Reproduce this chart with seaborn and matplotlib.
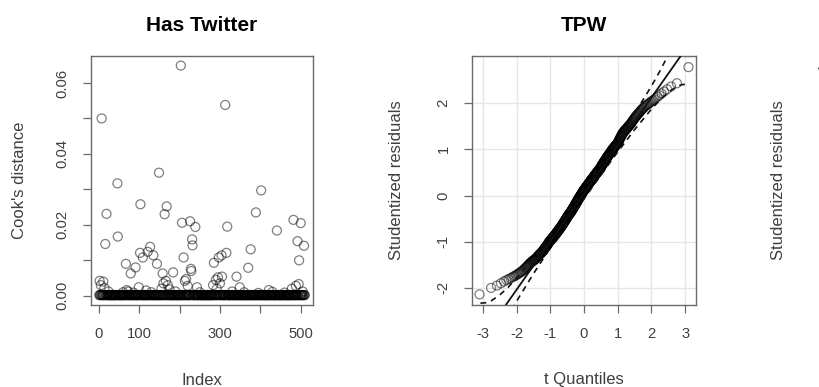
import numpy as np
import pandas as pd
import matplotlib
matplotlib.use("Agg")
import matplotlib.pyplot as plt
import seaborn as sns
from statistics import NormalDist

# ---------------- data ----------------
# Panel 1: Cook's distance vs index (Has Twitter)
n_obs = 510
cook_index = [2, 7, 11, 16, 19, 46, 47, 67, 69, 79, 91, 99, 102, 103, 109, 121, 127,
              135, 144, 149, 158, 163, 166, 168, 171, 184, 203, 206, 210, 213, 216,
              226, 228, 229, 231, 232, 239, 243, 285, 290, 295, 297, 304, 305, 313,
              316, 318, 341, 349, 370, 376, 389, 402, 421, 441, 482, 492, 495, 496,
              500, 508,
              5, 14, 24, 60, 73, 86, 117, 130, 155, 160, 175, 190, 220, 250, 283,
              292, 300, 330, 360, 395, 430, 460, 478, 488, 505]
cook_value = [0.0042, 0.0500, 0.0040, 0.0146, 0.0231, 0.0317, 0.0167, 0.0090, 0.0016,
              0.0063, 0.0080, 0.0024, 0.0121, 0.0258, 0.0108, 0.0124, 0.0138, 0.0114,
              0.0090, 0.0347, 0.0063, 0.0230, 0.0042, 0.0252, 0.0030, 0.0066, 0.0649,
              0.0206, 0.0108, 0.0042, 0.0047, 0.0210, 0.0076, 0.0070, 0.0159, 0.0142,
              0.0194, 0.0024, 0.0093, 0.0045, 0.0052, 0.0108, 0.0114, 0.0054, 0.0538,
              0.0121, 0.0195, 0.0054, 0.0024, 0.0079, 0.0131, 0.0235, 0.0297, 0.0016,
              0.0184, 0.0214, 0.0154, 0.0033, 0.0100, 0.0205, 0.0141,
              0.0030, 0.0022, 0.0012, 0.0010, 0.0012, 0.0009, 0.0015, 0.0010, 0.0020,
              0.0035, 0.0018, 0.0012, 0.0028, 0.0010, 0.0030, 0.0020, 0.0035, 0.0012,
              0.0010, 0.0008, 0.0011, 0.0009, 0.0020, 0.0028, 0.0012]
cook_baseline = 0.0002   # the remaining observations sit on ~0

# Panel 2: QQ plot (TPW) - sorted studentized residuals (510 obs.)
qq_residual = [
    -2.14, -2.00, -1.95, -1.90, -1.86, -1.83, -1.81, -1.79, -1.77, -1.75,
    -1.74, -1.72, -1.70, -1.69, -1.67, -1.66, -1.64, -1.63, -1.61, -1.60,
    -1.58, -1.56, -1.55, -1.53, -1.52, -1.50, -1.49, -1.47, -1.46, -1.45,
    -1.44, -1.43, -1.42, -1.41, -1.40, -1.40, -1.39, -1.38, -1.37, -1.36,
    -1.35, -1.34, -1.33, -1.32, -1.31, -1.30, -1.29, -1.28, -1.27, -1.26,
    -1.26, -1.25, -1.24, -1.23, -1.22, -1.21, -1.20, -1.19, -1.18, -1.17,
    -1.16, -1.15, -1.14, -1.13, -1.12, -1.12, -1.11, -1.10, -1.09, -1.08,
    -1.07, -1.06, -1.05, -1.04, -1.03, -1.02, -1.01, -1.00, -0.99, -0.99,
    -0.98, -0.97, -0.97, -0.96, -0.95, -0.95, -0.94, -0.93, -0.93, -0.92,
    -0.91, -0.91, -0.90, -0.89, -0.89, -0.88, -0.87, -0.87, -0.86, -0.85,
    -0.85, -0.84, -0.83, -0.83, -0.82, -0.81, -0.81, -0.80, -0.79, -0.79,
    -0.78, -0.77, -0.77, -0.76, -0.75, -0.75, -0.74, -0.73, -0.73, -0.72,
    -0.72, -0.71, -0.70, -0.70, -0.69, -0.68, -0.68, -0.67, -0.66, -0.66,
    -0.65, -0.64, -0.64, -0.63, -0.62, -0.62, -0.61, -0.60, -0.60, -0.59,
    -0.58, -0.58, -0.57, -0.56, -0.56, -0.55, -0.54, -0.54, -0.53, -0.52,
    -0.52, -0.51, -0.50, -0.50, -0.49, -0.48, -0.48, -0.47, -0.46, -0.46,
    -0.45, -0.44, -0.44, -0.43, -0.42, -0.42, -0.41, -0.41, -0.40, -0.40,
    -0.39, -0.39, -0.39, -0.38, -0.38, -0.37, -0.36, -0.36, -0.35, -0.34,
    -0.34, -0.33, -0.33, -0.32, -0.31, -0.31, -0.30, -0.29, -0.29, -0.28,
    -0.28, -0.27, -0.26, -0.26, -0.25, -0.24, -0.24, -0.23, -0.22, -0.22,
    -0.21, -0.21, -0.20, -0.19, -0.19, -0.18, -0.17, -0.17, -0.16, -0.15,
    -0.15, -0.14, -0.14, -0.13, -0.12, -0.11, -0.11, -0.10, -0.10, -0.09,
    -0.08, -0.08, -0.07, -0.07, -0.06, -0.05, -0.05, -0.04, -0.04, -0.03,
    -0.02, -0.02, -0.01, -0.01, 0.00, 0.01, 0.01, 0.02, 0.02, 0.03,
    0.04, 0.04, 0.05, 0.05, 0.06, 0.07, 0.07, 0.08, 0.08, 0.09,
    0.09, 0.10, 0.10, 0.11, 0.11, 0.12, 0.12, 0.13, 0.13, 0.14,
    0.14, 0.15, 0.15, 0.16, 0.16, 0.17, 0.17, 0.18, 0.18, 0.19,
    0.19, 0.20, 0.20, 0.21, 0.21, 0.22, 0.22, 0.23, 0.23, 0.24,
    0.24, 0.25, 0.25, 0.26, 0.26, 0.27, 0.27, 0.28, 0.28, 0.29,
    0.29, 0.30, 0.30, 0.31, 0.31, 0.32, 0.32, 0.33, 0.33, 0.34,
    0.34, 0.35, 0.35, 0.36, 0.36, 0.37, 0.37, 0.38, 0.38, 0.39,
    0.39, 0.40, 0.40, 0.41, 0.41, 0.42, 0.42, 0.43, 0.43, 0.44,
    0.44, 0.45, 0.45, 0.46, 0.46, 0.47, 0.47, 0.48, 0.48, 0.49,
    0.49, 0.50, 0.50, 0.51, 0.51, 0.52, 0.52, 0.53, 0.53, 0.54,
    0.54, 0.55, 0.55, 0.56, 0.56, 0.57, 0.57, 0.58, 0.58, 0.59,
    0.60, 0.61, 0.61, 0.62, 0.63, 0.63, 0.64, 0.65, 0.65, 0.66,
    0.67, 0.67, 0.68, 0.69, 0.69, 0.70, 0.71, 0.71, 0.72, 0.73,
    0.73, 0.74, 0.75, 0.75, 0.76, 0.77, 0.78, 0.78, 0.79, 0.80,
    0.80, 0.81, 0.82, 0.82, 0.83, 0.84, 0.84, 0.85, 0.86, 0.86,
    0.87, 0.88, 0.88, 0.89, 0.90, 0.90, 0.91, 0.92, 0.92, 0.93,
    0.94, 0.95, 0.95, 0.96, 0.97, 0.98, 0.98, 0.99, 1.00, 1.00,
    1.01, 1.02, 1.02, 1.03, 1.04, 1.04, 1.05, 1.06, 1.06, 1.07,
    1.08, 1.08, 1.09, 1.10, 1.10, 1.11, 1.12, 1.12, 1.13, 1.14,
    1.15, 1.17, 1.18, 1.19, 1.20, 1.22, 1.23, 1.24, 1.25, 1.27,
    1.28, 1.29, 1.30, 1.32, 1.33, 1.34, 1.35, 1.36, 1.37, 1.38,
    1.39, 1.40, 1.41, 1.42, 1.42, 1.43, 1.44, 1.45, 1.46, 1.47,
    1.48, 1.49, 1.50, 1.51, 1.52, 1.53, 1.54, 1.55, 1.56, 1.58,
    1.59, 1.61, 1.62, 1.64, 1.65, 1.67, 1.68, 1.70, 1.71, 1.73,
    1.74, 1.76, 1.77, 1.79, 1.80, 1.82, 1.84, 1.85, 1.87, 1.89,
    1.90, 1.92, 1.94, 1.95, 1.97, 1.98, 2.00, 2.02, 2.04, 2.06,
    2.08, 2.11, 2.14, 2.17, 2.21, 2.25, 2.30, 2.36, 2.43, 2.78]
ref_intercept = 0.04
ref_slope = 1.04
env_quantile = [-3.07, -2.9, -2.75, -2.5, -2.25, -2.0, -1.5, -1.0, -0.5, 0.0,
                0.5, 1.0, 1.5, 2.0, 2.25, 2.5, 2.75, 2.9, 3.07]
env_upper = [-2.33, -2.32, -2.28, -2.155, -1.987, -1.79, -1.346, -0.864, -0.362, 0.153,
             0.678, 1.216, 1.774, 2.37, 2.693, 3.045, 3.44, 3.71, 4.05]
env_lower = [-3.97, -3.63, -3.36, -2.965, -2.613, -2.29, -1.694, -1.136, -0.598, -0.073,
             0.442, 0.944, 1.426, 1.87, 2.067, 2.235, 2.36, 2.40, 2.41]

# Panel 3 (cut off at the right edge)
p3_ticks = [-4, -2, 0, 2, 4]

# ---------------- style ----------------
sns.set_theme(style="white")
plt.rcParams['font.family'] = ['Liberation Sans', 'DejaVu Sans']

GREY_SPINE = "#6a6a6a"
GREY_TEXT = "#3f3f3f"
PT = 72 / 100  # points per pixel

fig = plt.figure(figsize=(8.2, 3.87), dpi=100)
W, H = 820, 387


def axes_px(left, top, right, bottom):
    return fig.add_axes([left / W, (H - bottom) / H, (right - left) / W, (bottom - top) / H])


def style_axes(ax):
    for sp in ax.spines.values():
        sp.set_color(GREY_SPINE)
        sp.set_linewidth(1.0)
        sp.set_visible(True)
    ax.tick_params(direction="out", length=8 * PT, width=0.9, color=GREY_SPINE,
                   labelcolor=GREY_TEXT, labelsize=10.6, pad=13.5 * PT,
                   bottom=True, left=True, top=False, right=False)
    ax.tick_params(axis="y", labelrotation=90)
    for lbl in ax.get_yticklabels():
        lbl.set_va("center")
    ax.xaxis.label.set_color(GREY_TEXT)
    ax.yaxis.label.set_color(GREY_TEXT)


circle_kw = dict(marker="o", s=42, facecolor="none", edgecolor=(0, 0, 0, 0.5),
                 linewidth=0.9, legend=False)

# ---------------- panel 1 ----------------
ax1 = axes_px(91, 56, 313, 305)
all_index = list(range(1, n_obs + 1))
marked = set(cook_index)
base_index = [i for i in all_index if i not in marked]
df1 = pd.DataFrame({
    "Index": base_index + cook_index,
    "Cook": [cook_baseline] * len(base_index) + cook_value,
})
sns.scatterplot(data=df1, x="Index", y="Cook", ax=ax1, **circle_kw)
ax1.set_xlim(-19.4, 530.4)
ax1.set_ylim(-0.0026, 0.0676)
ax1.set_xticks([0, 100, 200, 300, 400, 500])
ax1.set_xticklabels(["0", "100", "", "300", "", "500"])
ax1.set_yticks([0, 0.01, 0.02, 0.03, 0.04, 0.05, 0.06])
ax1.set_yticklabels(["0.00", "", "0.02", "", "0.04", "", "0.06"])
ax1.set_xlabel("Index", fontsize=12)
ax1.set_ylabel("Cook's distance", fontsize=12)
ax1.set_title("Has Twitter", fontsize=15, fontweight="bold", color="black", pad=18)
style_axes(ax1)
ax1.xaxis.label.set_va("center")
ax1.yaxis.label.set_va("center")
ax1.xaxis.set_label_coords(0.5, -0.305)
ax1.yaxis.set_label_coords(-0.32, 0.5)

# ---------------- panel 2 ----------------
ax2 = axes_px(472, 56, 696, 305)
for gx in [-3, -2, -1, 0, 1, 2, 3]:
    ax2.axvline(gx, color="#e6e6e6", lw=1.0, zorder=0)
for gy in [-2, -1, 0, 1, 2]:
    ax2.axhline(gy, color="#e6e6e6", lw=1.0, zorder=0)
n_qq = len(qq_residual)
qq_quantile = [NormalDist().inv_cdf((i - 0.5) / n_qq) for i in range(1, n_qq + 1)]
df2 = pd.DataFrame({"q": qq_quantile, "r": qq_residual})
sns.scatterplot(data=df2, x="q", y="r", ax=ax2, zorder=3, **circle_kw)
ax2.axline((0, ref_intercept), slope=ref_slope, color="#111111", lw=1.3, zorder=4)
df_env = pd.DataFrame({"q": env_quantile, "up": env_upper, "lo": env_lower})
sns.lineplot(data=df_env, x="q", y="up", ax=ax2, color="#111111", lw=1.2, zorder=4)
sns.lineplot(data=df_env, x="q", y="lo", ax=ax2, color="#111111", lw=1.2, zorder=4)
for ln in ax2.lines[-2:]:
    ln.set_linestyle((0, (3.5, 3)))
ax2.set_xlim(-3.32, 3.32)
ax2.set_ylim(-2.37, 3.02)
ax2.set_xticks([-3, -2, -1, 0, 1, 2, 3])
ax2.set_xticklabels(["-3", "-2", "-1", "0", "1", "2", "3"])
ax2.set_yticks([-2, -1, 0, 1, 2])
ax2.set_yticklabels(["-2", "-1", "0", "1", "2"])
ax2.set_xlabel("t Quantiles", fontsize=12)
ax2.set_ylabel("Studentized residuals", fontsize=12)
ax2.set_title("TPW", fontsize=15, fontweight="bold", color="black", pad=18)
style_axes(ax2)
ax2.xaxis.label.set_va("center")
ax2.yaxis.label.set_va("center")
ax2.xaxis.set_label_coords(0.5, -0.30)
ax2.yaxis.set_label_coords(-0.336, 0.5)

# ---------------- panel 3 (mostly off-canvas) ----------------
ax3 = axes_px(853.6, 56, 1077.6, 305)
ax3.set_ylim(-4.35, 4.44)
ax3.set_xlim(-3.3, 3.3)
ax3.set_yticks(p3_ticks)
ax3.set_yticklabels([str(t) for t in p3_ticks])
ax3.set_xticks([])
ax3.set_ylabel("Studentized residuals", fontsize=12)
style_axes(ax3)
ax3.yaxis.label.set_va("center")
ax3.yaxis.set_label_coords(-0.336, 0.5)

fig.savefig("out.png", dpi=100)
